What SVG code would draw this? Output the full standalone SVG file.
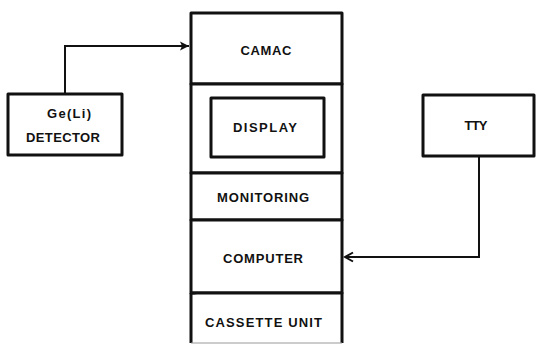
<svg xmlns="http://www.w3.org/2000/svg" width="537" height="345" viewBox="0 0 537 345">
<style>
.box{fill:#fff;stroke:#111;stroke-width:3;stroke-linejoin:round}
.lbl{font-family:"Liberation Sans",Arial,sans-serif;font-weight:bold;font-size:13px;fill:#111;text-anchor:middle}
.conn{fill:none;stroke:#111;stroke-width:2}
</style>
<defs>
<marker id="ahFill" markerWidth="10" markerHeight="10" refX="9" refY="5" orient="auto" markerUnits="userSpaceOnUse">
<path d="M0,0.5 L9,5 L0,9.5 L2,5 Z" fill="#111"/>
</marker>
<marker id="ahOpen" markerWidth="12" markerHeight="12" refX="10" refY="6" orient="auto" markerUnits="userSpaceOnUse">
<path d="M2,1.5 L10,6 L2,10.5" fill="none" stroke="#111" stroke-width="2"/>
</marker>
</defs>
<rect width="537" height="345" fill="#fff"/>
<g id="connectors">
<path class="conn" d="M65,94 V46 H189" marker-end="url(#ahFill)"/>
<path class="conn" d="M479,156 V257 H345" marker-end="url(#ahOpen)"/>
</g>
<g id="camac">
<rect class="box" x="191" y="13" width="151" height="71"/>
<text class="lbl" x="266" y="55" textLength="51" lengthAdjust="spacing">CAMAC</text>
</g>
<g id="display-section">
<rect class="box" x="191" y="84" width="151" height="89"/>
</g>
<g id="display">
<rect class="box" x="211" y="98" width="113" height="59"/>
<text class="lbl" x="265" y="132" textLength="64" lengthAdjust="spacing">DISPLAY</text>
</g>
<g id="monitoring">
<rect class="box" x="191" y="173" width="151" height="47"/>
<text class="lbl" x="263" y="202" textLength="92" lengthAdjust="spacing">MONITORING</text>
</g>
<g id="computer">
<rect class="box" x="191" y="220" width="151" height="73"/>
<text class="lbl" x="263" y="263" textLength="80" lengthAdjust="spacing">COMPUTER</text>
</g>
<g id="cassette">
<path class="box" d="M191,293 H342 V343 M191,293 V343" fill="none"/>
<path d="M191,343 H342" stroke="#999" stroke-width="1" fill="none"/>
<text class="lbl" x="263.5" y="327" textLength="117" lengthAdjust="spacing">CASSETTE UNIT</text>
</g>
<g id="detector">
<rect class="box" x="8" y="94" width="114" height="61"/>
<text class="lbl" x="69" y="118" textLength="44" lengthAdjust="spacing">Ge(Li)</text>
<text class="lbl" x="63" y="142" textLength="74" lengthAdjust="spacing">DETECTOR</text>
</g>
<g id="tty">
<rect class="box" x="423" y="95" width="111" height="61"/>
<text class="lbl" x="476" y="130" font-size="11" textLength="23" lengthAdjust="spacing">TTY</text>
</g>
</svg>
